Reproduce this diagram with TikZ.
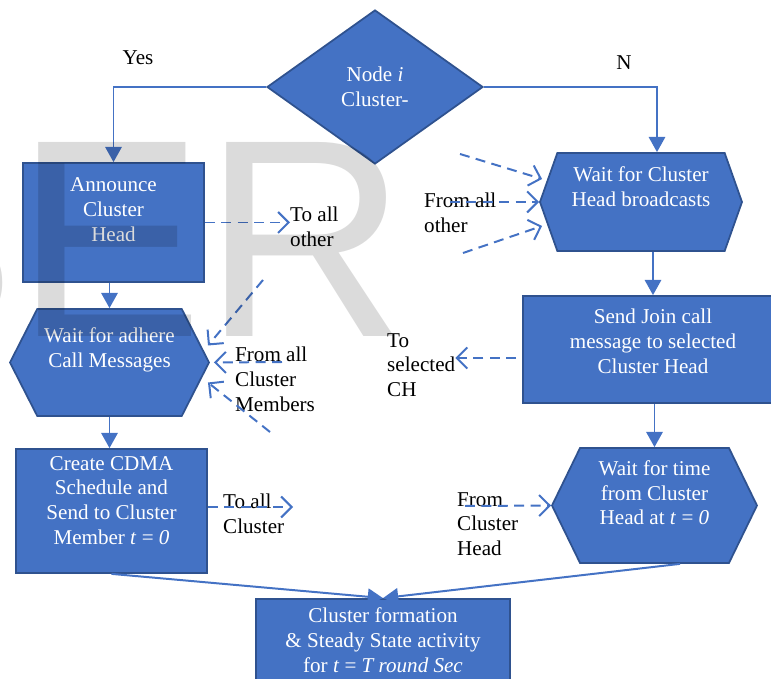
\documentclass[tikz,border=0pt]{standalone}
\usepackage{fontspec}
\setmainfont{Liberation Serif}
\newfontfamily\wmfont{Liberation Sans}
\usetikzlibrary{shapes.geometric,shapes.symbols,arrows.meta}
\definecolor{boxblue}{HTML}{4472C4}
\definecolor{edgeblue}{HTML}{2F528F}

\begin{document}
\begin{tikzpicture}[
  x=0.03cm, y=-0.03cm,
  font=\fontsize{18}{21.3}\selectfont,
  box/.style={rectangle, draw=edgeblue, fill=boxblue, line width=1.5pt,
    text=white, align=center, inner sep=0pt},
  waitbox/.style={signal, signal to=west and east, draw=edgeblue, fill=boxblue,
    line width=1.5pt, text=white, align=center, inner sep=0pt},
  decision/.style={diamond, draw=edgeblue, fill=boxblue, line width=1.5pt,
    text=white, align=center, inner sep=0pt},
  note/.style={anchor=north west, align=left, inner sep=0pt},
  arr/.style={-{Triangle[length=13pt,width=14pt]}, boxblue, line width=1.7pt},
  dasharr/.style={-{Straight Barb[length=9pt,width=18pt]}, boxblue,
    line width=1.7pt, dash pattern=on 8.5pt off 5.5pt}
]
\path[use as bounding box] (0,0) rectangle (771,679);
\clip (0,0) rectangle (771,679);

% decision
\node[decision, minimum width=6.48cm, minimum height=4.62cm] (dec) at (375,87) {Node \textit{i}\\Cluster-};
\node[anchor=base, inner sep=0pt] (yes) at (138,65) {Yes};
\node[anchor=base, inner sep=0pt] (no) at (624,70) {N};

% cluster head side
\node[box, minimum width=5.43cm, minimum height=3.57cm, text depth=22pt] (ann) at (113.5,222.5) {Announce\\Cluster\\Head};
\node[waitbox, signal pointer angle=126, minimum width=5.97cm, minimum height=3.21cm, text depth=26pt] (wadh) at (109.5,362.5) {Wait for adhere\\Call Messages};
\node[box, minimum width=5.73cm, minimum height=3.72cm, text depth=18pt] (cdma) at (111.5,511) {Create CDMA\\Schedule and\\Send to Cluster\\Member \textit{t} = \textit{0}};

% member side
\node[waitbox, signal pointer angle=141, minimum width=6.06cm, minimum height=2.94cm, text depth=26pt] (wch) at (641,202) {Wait for Cluster\\Head broadcasts};
\node[box, minimum width=7.8cm, minimum height=3.21cm, text depth=14pt] (join) at (653,349.5) {Send Join call\\message to selected\\Cluster Head};
\node[waitbox, signal pointer angle=128, minimum width=6.15cm, minimum height=3.45cm, text depth=22pt] (wtime) at (654.5,505.5) {Wait for time\\from Cluster\\Head at \textit{t} = \textit{0}};

\node[box, minimum width=7.62cm, minimum height=2.46cm] (fin) at (383,640) {Cluster formation\\\& Steady State activity\\for \textit{t} = \textit{T round Sec}};

% messages
\node[note] (toall) at (290,207) {To all\\other};
\node[note] (fromoth) at (424,193) {From all\\other};
\node[note] (frommem) at (235,347) {From all\\Cluster\\Members};
\node[note] (tosel) at (387,333) {To\\selected\\CH};
\node[note] (toclu) at (223,494) {To all\\Cluster};
\node[note] (fromch) at (457,492) {From\\Cluster\\Head};

% flow
\draw[arr] (dec.west) -| (ann.north);
\draw[arr] (dec.east) -| ([xshift=0.48cm]wch.north);
\draw[arr] (wadh.north |- ann.south) -- (wadh.north);
\draw[arr] (wadh.south) -- (wadh.south |- cdma.north);
\draw[arr] (join.north |- wch.south) -- (join.north);
\draw[arr] (wtime.north |- join.south) -- (wtime.north);
\draw[arr] (cdma.south) -- (fin.north);
\draw[arr] ([xshift=0.765cm]wtime.south) -- (fin.north);

\coordinate (m1) at (263,280);
\coordinate (m2) at (282,362);
\coordinate (m3) at (270,432);
\coordinate (o1) at (460,154);
\coordinate (o2) at (450,202);
\coordinate (o3) at (463,253);
\coordinate (c1) at (293,507);
\coordinate (h1) at (465,506);

\draw[dasharr] (ann.east) -- (ann.east -| toall.west);
\draw[dasharr] (m1) -- ([shift={(-2,-17)}]wadh.east);
\draw[dasharr] (m2) -- ([xshift=0.12cm]wadh.east);
\draw[dasharr] (m3) -- ([shift={(-2,20)}]wadh.east);
\draw[dasharr] (o1) -- ([shift={(3,-23)}]wch.west);
\draw[dasharr] (o2) -- (wch.west);
\draw[dasharr] (o3) -- ([shift={(3,24)}]wch.west);
\draw[dasharr] ([shift={(-6,8.5)}]join.west) coordinate (js) -- (js -| tosel.east);
\draw[dasharr] (cdma.east |- c1) -- (c1);
\draw[dasharr] (h1) -- (wtime.west);

% watermark
\node[anchor=base west, inner sep=0pt, font=\wmfont\fontsize{240.8}{240}\selectfont,
  text=black, text opacity=0.14] (wm) at (-173,337) {SER};
\end{tikzpicture}
\end{document}
